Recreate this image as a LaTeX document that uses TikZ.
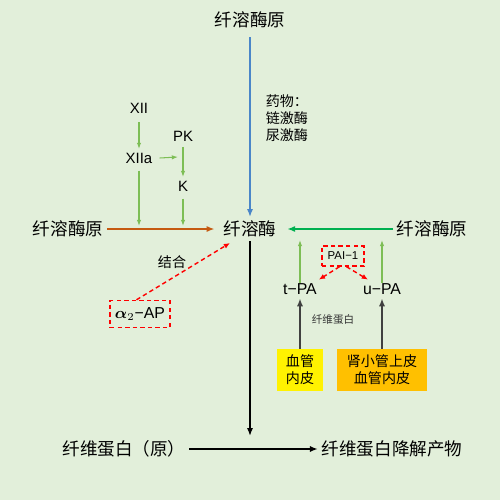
\documentclass[tikz,border=0pt]{standalone}
\usepackage{fontspec}
\usepackage{bm}
\setmainfont{Liberation Sans}
\newfontfamily\cjk{Noto Sans CJK SC}
\usetikzlibrary{arrows.meta}

\definecolor{bgcol}{HTML}{E2EFDA}
\definecolor{linkblue}{HTML}{4A86C8}
\definecolor{linkorange}{HTML}{C55A11}
\definecolor{linkgreen}{HTML}{00B050}
\definecolor{softgreen}{HTML}{7DBE55}
\definecolor{boxorange}{HTML}{FFC000}

\begin{document}
\begin{tikzpicture}[x=0.02cm, y=-0.02cm, every node/.style={inner sep=2pt}]
	\tikzset{
		cn/.style={font=\cjk\fontsize{10}{12}\selectfont},
		cnsmall/.style={font=\cjk\fontsize{8}{9.6}\selectfont},
		latin/.style={font=\fontsize{8.5}{10}\selectfont},
		thick arrow/.style={line width=1.2pt, -{Latex[length=4.5pt,width=3.5pt]}},
		thin arrow/.style={softgreen, line width=0.6pt, -{Latex[length=3.5pt,width=2.5pt]}},
		red arrow/.style={red, line width=0.8pt, dash pattern=on 2.5pt off 1.8pt, -{Latex[length=3.5pt,width=3pt]}},
		dashbox/.style={draw=red, line width=0.8pt, dash pattern=on 2.5pt off 1.8pt},
		cellbox/.style={cnsmall, align=center, minimum height=0.84cm, inner sep=1pt}
	}
	\fill[bgcol] (0,0) rectangle (500,500);

	% plasminogen / plasmin row
	\node[cn] (top)   at (250,20)  {纤溶酶原};
	\node[cn] (left)  at (68,229)  {纤溶酶原};
	\node[cn] (pl)    at (250,229) {纤溶酶};
	\node[cn] (right) at (432,229) {纤溶酶原};
	\node[cnsmall, anchor=north west, align=left] (drug) at (262,91) {药物：\\链激酶\\尿激酶};

	\draw[thick arrow, linkblue] ([yshift=-3pt]top.south) -- (pl);
	\draw[thick arrow, linkorange] (left) -- ([xshift=-3pt]pl.west);
	\draw[thick arrow, linkgreen] (right) -- ([xshift=4pt]pl.east);

	% contact pathway
	\node[latin] (xii)  at (139,108) {XII};
	\node[latin] (xiia) at (139,158) {XIIa};
	\node[latin] (pk)   at (183,136) {PK};
	\node[latin] (k)    at (183,186) {K};
	\coordinate (xiiaend) at (139,226);
	\coordinate (kend)    at (183,226);
	\coordinate (pkline)  at (178,157);
	\draw[thin arrow] ([yshift=-3pt]xii.south) -- (xiia);
	\draw[thin arrow] ([xshift=2pt]xiia.east) -- (pkline);
	\draw[thin arrow] ([yshift=-1pt]pk.south) -- (k);
	\draw[thin arrow] ([yshift=-2pt]xiia.south) -- (xiiaend);
	\draw[thin arrow] ([yshift=-2pt]k.south) -- (kend);

	% activators
	\node[latin, font=\fontsize{9}{10}\selectfont] (tpa) at (300,289) {t−PA};
	\node[latin, font=\fontsize{9}{10}\selectfont] (upa) at (382,289) {u−PA};
	\coordinate (tpaend) at (300,240);
	\coordinate (upaend) at (382,240);
	\draw[thin arrow] ([yshift=-2pt]tpa.north) -- (tpaend);
	\draw[thin arrow] ([yshift=-2pt]upa.north) -- (upaend);

	\node[dashbox, font=\fontsize{6.5}{8}\selectfont, minimum width=0.84cm, minimum height=0.4cm] (pai) at (343,256) {PAI−1};
	\draw[red arrow] ([xshift=-2pt]pai.south) -- ([xshift=-1pt]tpa.north east);
	\draw[red arrow] ([xshift=2pt]pai.south) -- ([xshift=5pt]upa.north west);

	\node[cellbox, fill=yellow, minimum width=0.92cm] (vesa) at (300,370) {血管\\内皮};
	\node[cellbox, fill=boxorange, minimum width=1.8cm] (vesb) at (382,370) {肾小管上皮\\血管内皮};
	\draw[thick arrow, line width=1pt, black!75] (vesa) -- (tpa);
	\draw[thick arrow, line width=1pt, black!75] (vesb) -- (upa);
	\node[cn, font=\cjk\fontsize{6}{7}\selectfont, black!80] (fbl) at (333,320) {纤维蛋白};

	% inhibitor
	\node[dashbox, font=\fontsize{9}{10}\selectfont, minimum width=1.2cm, minimum height=0.54cm] (ap) at (140,314) {$\bm{\alpha}_2$−AP};
	\coordinate (bind) at (230,243);
	\draw[red arrow] ([xshift=-2pt]ap.north) -- (bind);
	\node[cnsmall] (bindlbl) at (172,262) {结合};

	% fibrinolysis
	\node[cn] (fib) at (124,449) {纤维蛋白（原）};
	\node[cn] (fdp) at (392,449) {纤维蛋白降解产物};
	\coordinate (plend) at (250,436);
	\draw[thick arrow, line width=1pt] (pl) -- (plend);
	\draw[thick arrow, line width=1pt] (fib) -- (fdp);
\end{tikzpicture}
\end{document}
